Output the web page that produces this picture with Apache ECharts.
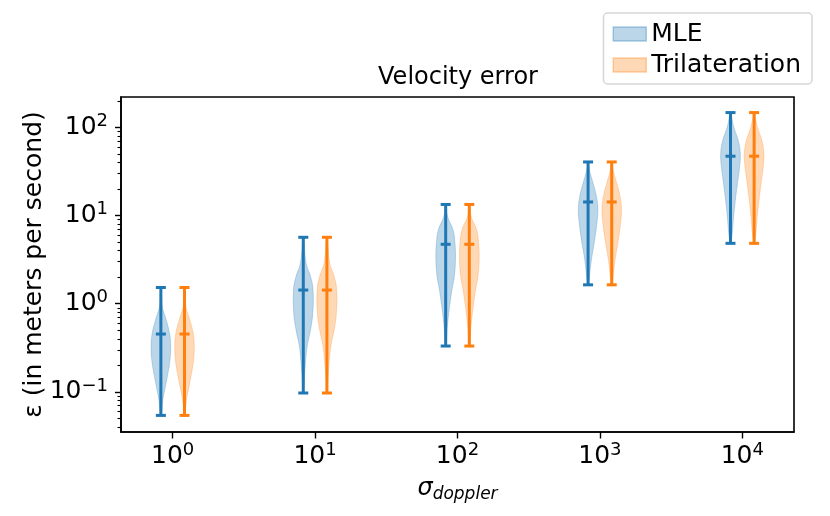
<!DOCTYPE html>
<html><head><meta charset="utf-8">
<script src="https://cdn.jsdelivr.net/npm/echarts@6/dist/echarts.min.js"></script>
<style>html,body{margin:0;padding:0;background:#fff}#c{width:830px;height:516px}</style>
</head><body><div id="c"></div>
<script>
// ---- data ----
const sigmaExponents = [0, 1, 2, 3, 4];          // x positions: sigma_doppler = 10^k
const yTickExponents = [-1, 0, 1, 2];            // major y ticks: 10^k
const yMinorTicks = [0.04,0.05,0.06,0.07,0.08,0.09, 0.2,0.3,0.4,0.5,0.6,0.7,0.8,0.9,
                     2,3,4,5,6,7,8,9, 20,30,40,50,60,70,80,90, 200];
const seriesNames = ['MLE', 'Trilateration'];

const mleMin = [0.054, 0.097, 0.331, 1.64, 4.85];
const mleMax = [1.53, 5.68, 13.4, 40.7, 148];
const mleMid = [0.453, 1.43, 4.73, 14.3, 47.3];
const triMin = [0.054, 0.097, 0.331, 1.64, 4.85];
const triMax = [1.53, 5.68, 13.4, 40.7, 148];
const triMid = [0.453, 1.43, 4.73, 14.3, 47.3];

// violin outline: value levels (top to bottom) and relative density at each level
const mleLevels = [
  [1.53, 0.93, 0.66, 0.46, 0.33, 0.23, 0.16, 0.115, 0.082, 0.054],
  [5.68, 2.88, 2.03, 1.44, 0.78, 0.51, 0.33, 0.21, 0.137, 0.097],
  [13.4, 9.7, 6.9, 4.85, 3.14, 2.03, 1.44, 0.93, 0.60, 0.43, 0.331],
  [40.7, 32.8, 23.2, 16.4, 11.6, 7.5, 4.85, 3.14, 2.03, 1.64],
  [148, 101.6, 71.8, 50.8, 35.8, 23.2, 15.0, 9.7, 6.3, 4.85]
];
const mleDensity = [
  [0.03, 0.14, 0.54, 0.89, 1.0, 0.93, 0.71, 0.46, 0.21, 0.04],
  [0.03, 0.29, 0.75, 1.0, 0.97, 0.75, 0.40, 0.22, 0.10, 0.03],
  [0.03, 0.20, 0.75, 0.95, 1.0, 0.88, 0.64, 0.40, 0.20, 0.10, 0.03],
  [0.03, 0.14, 0.52, 0.86, 1.0, 0.86, 0.62, 0.34, 0.14, 0.03],
  [0.03, 0.33, 0.79, 1.0, 0.93, 0.71, 0.50, 0.32, 0.18, 0.03]
];
const triLevels = [
  [1.53, 0.93, 0.66, 0.46, 0.33, 0.23, 0.16, 0.115, 0.082, 0.054],
  [5.68, 2.88, 2.03, 1.44, 0.78, 0.51, 0.33, 0.21, 0.137, 0.097],
  [13.4, 9.7, 6.9, 4.85, 3.14, 2.03, 1.44, 0.93, 0.60, 0.43, 0.331],
  [40.7, 32.8, 23.2, 16.4, 11.6, 7.5, 4.85, 3.14, 2.03, 1.64],
  [148, 101.6, 71.8, 50.8, 35.8, 23.2, 15.0, 9.7, 6.3, 4.85]
];
const triDensity = [
  [0.03, 0.14, 0.54, 0.89, 1.0, 0.93, 0.71, 0.46, 0.21, 0.04],
  [0.03, 0.29, 0.75, 1.0, 0.97, 0.75, 0.40, 0.22, 0.10, 0.03],
  [0.03, 0.20, 0.75, 0.95, 1.0, 0.88, 0.64, 0.40, 0.20, 0.10, 0.03],
  [0.03, 0.14, 0.52, 0.86, 1.0, 0.86, 0.62, 0.34, 0.14, 0.03],
  [0.03, 0.33, 0.79, 1.0, 0.93, 0.71, 0.50, 0.32, 0.18, 0.03]
];

// ---- style ----
const FONT = 'DejaVu Sans';
const C0 = '#1f77b4', C1 = '#ff7f0e';
const HALF_W = 9.8;     // px, max half width of violin body
const CAP = 5;          // px, half length of the caps
const OFFSET = 0.083;   // decades, side-by-side offset
const L10 = Math.log10;

function expLabel(v) {
  const e = Math.round(v);
  return '{b|10}{s|' + (e < 0 ? '\u2212' + (-e) : e) + '}';
}
const tickRich = {
  b: {fontFamily: FONT, fontSize: 25, color: '#000', lineHeight: 30},
  s: {fontFamily: FONT, fontSize: 18, color: '#000', lineHeight: 18, verticalAlign: 'top'}
};

function violinSeries(name, color, fill, off, mins, maxs, mids, levels, dens) {
  return {
    type: 'custom', name: name, coordinateSystem: 'cartesian2d',
    itemStyle: {color: fill},
    encode: {x: 0, y: 1},
    animation: false,
    data: sigmaExponents.map((e, i) => [e + off, L10(mids[i]), i]),
    renderItem: function (params, api) {
      const i = api.value(2);
      const xc = api.value(0);
      const right = [], left = [];
      levels[i].forEach((v, j) => {
        const p = api.coord([xc, L10(v)]);
        right.push([p[0] + dens[i][j] * HALF_W, p[1]]);
        left.push([p[0] - dens[i][j] * HALF_W, p[1]]);
      });
      const poly = right.concat(left.reverse());
      const top = api.coord([xc, L10(maxs[i])]);
      const bot = api.coord([xc, L10(mins[i])]);
      const mid = api.coord([xc, L10(mids[i])]);
      const ls = {stroke: color, lineWidth: 3};
      const cap = (p) => ({type: 'line', shape: {x1: p[0] - CAP, y1: p[1], x2: p[0] + CAP, y2: p[1]}, style: ls});
      return {type: 'group', children: [
        {type: 'polygon', shape: {points: poly, smooth: 0.4},
         style: {fill: color, stroke: color, lineWidth: 0.8, opacity: 0.3}},
        {type: 'line', shape: {x1: top[0], y1: top[1], x2: bot[0], y2: bot[1]}, style: ls},
        cap(top), cap(bot), cap(mid)
      ]};
    }
  };
}

const yMin = -1.456, yMax = 2.347;
const chart = echarts.init(document.getElementById('c'), null, {renderer: 'canvas'});
chart.setOption({
  animation: false,
  backgroundColor: '#fff',
  grid: {left: 121, top: 97, width: 673, height: 335, show: true,
         borderColor: '#000', borderWidth: 1.6, backgroundColor: 'transparent'},
  graphic: [{type: 'text', x: 458, y: 78,
    style: {text: 'Velocity error', font: '24px "DejaVu Sans"', fill: '#000',
            align: 'center', verticalAlign: 'middle'}}],
  legend: {
    orient: 'vertical', right: 18, top: 13, selectedMode: false,
    itemWidth: 33, itemHeight: 14, itemGap: 5, padding: [8, 11, 6, 9],
    borderColor: 'rgba(204,204,204,0.8)', borderWidth: 1.5, borderRadius: 4,
    backgroundColor: '#fff',
    textStyle: {fontFamily: FONT, fontSize: 25, color: '#000', lineHeight: 26},
    data: [
      {name: seriesNames[0], icon: 'rect',
       itemStyle: {color: 'rgba(31,119,180,0.3)', borderColor: 'rgba(31,119,180,0.35)', borderWidth: 1.5}},
      {name: seriesNames[1], icon: 'rect',
       itemStyle: {color: 'rgba(255,127,14,0.3)', borderColor: 'rgba(255,127,14,0.35)', borderWidth: 1.5}}
    ]
  },
  xAxis: {
    type: 'value', min: -0.363, max: 4.363,
    axisLine: {show: true, onZero: false, lineStyle: {color: '#000', width: 1.6}},
    axisTick: {show: true, customValues: sigmaExponents, length: 6.5, lineStyle: {color: '#000', width: 1.4}},
    axisLabel: {customValues: sigmaExponents, formatter: expLabel, rich: tickRich, margin: 9},
    splitLine: {show: false},
    name: '{s|\u03c3}{d|doppler}', nameLocation: 'middle', nameGap: 43,
    nameTextStyle: {rich: {
      s: {fontFamily: FONT, fontStyle: 'italic', fontSize: 24, color: '#000', lineHeight: 28},
      d: {fontFamily: FONT, fontStyle: 'italic', fontSize: 17, color: '#000', lineHeight: 14, verticalAlign: 'bottom'}
    }}
  },
  yAxis: [{
    type: 'value', min: yMin, max: yMax, position: 'left',
    axisLine: {show: true, onZero: false, lineStyle: {color: '#000', width: 1.6}},
    axisTick: {show: true, customValues: yTickExponents, length: 6, lineStyle: {color: '#000', width: 1.4}},
    axisLabel: {customValues: yTickExponents, formatter: expLabel, rich: tickRich, margin: 13},
    splitLine: {show: false},
    name: '\u03b5 (in meters per second)', nameLocation: 'middle', nameGap: 74, nameRotate: 90,
    nameMoveOverlap: false,
    nameTextStyle: {fontFamily: FONT, fontSize: 25, color: '#000'}
  }, {
    type: 'value', min: yMin, max: yMax, position: 'left',
    axisLine: {show: false, onZero: false},
    axisTick: {show: true, customValues: yMinorTicks.map(L10), length: 3.5, lineStyle: {color: '#000', width: 1.1}},
    axisLabel: {show: false},
    splitLine: {show: false}
  }],
  series: [
    violinSeries(seriesNames[0], C0, 'rgba(31,119,180,0.3)', -OFFSET, mleMin, mleMax, mleMid, mleLevels, mleDensity),
    violinSeries(seriesNames[1], C1, 'rgba(255,127,14,0.3)', OFFSET, triMin, triMax, triMid, triLevels, triDensity)
  ]
});
</script>
</body></html>
